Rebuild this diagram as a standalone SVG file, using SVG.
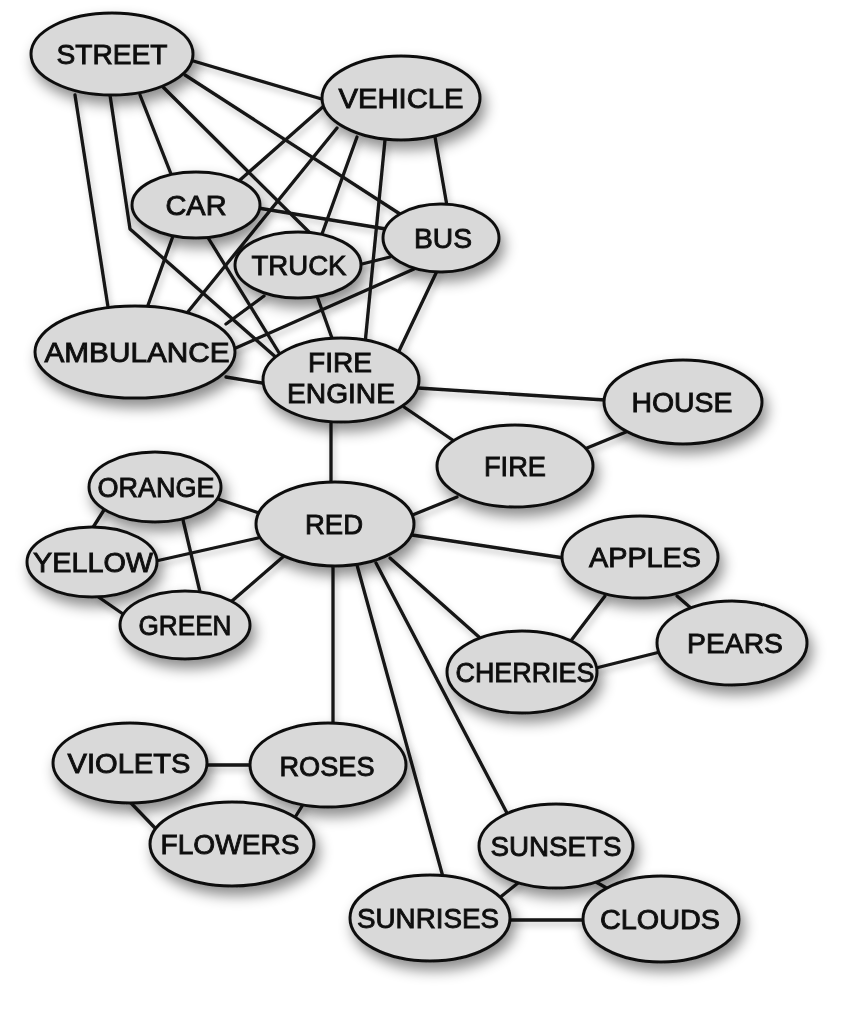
<svg xmlns="http://www.w3.org/2000/svg" width="851" height="1032" viewBox="0 0 851 1032">
<defs>
<filter id="sh" x="-30%" y="-30%" width="170%" height="180%">
<feDropShadow dx="4" dy="8" stdDeviation="7" flood-color="#000" flood-opacity="0.45"/>
</filter>
<filter id="lsh" x="-10%" y="-10%" width="120%" height="120%">
<feDropShadow dx="2" dy="4" stdDeviation="3" flood-color="#000" flood-opacity="0.25"/>
</filter>
</defs>
<style>
.e{stroke:#141414;stroke-width:3.3;fill:none;stroke-linecap:round;stroke-linejoin:round}
.n ellipse{fill:#d9d9d9;stroke:#111;stroke-width:3}
.n text{font-family:"Liberation Sans",Arial,sans-serif;font-size:27px;fill:#111;stroke:#111;stroke-width:0.9;text-anchor:middle}
.n{filter:url(#sh)}
</style>
<rect width="851" height="1032" fill="#fff"/>
<g id="connectors" filter="url(#lsh)">
<line class="e" x1="190" y1="60" x2="325" y2="100"/>
<line class="e" x1="185" y1="75" x2="400" y2="214"/>
<line class="e" x1="163" y1="87" x2="311" y2="234"/>
<line class="e" x1="140" y1="95" x2="171" y2="174"/>
<polyline class="e" points="110,95 130,229 279,360"/>
<line class="e" x1="75" y1="95" x2="108" y2="307"/>
<line class="e" x1="325" y1="105" x2="240" y2="180"/>
<line class="e" x1="337" y1="128" x2="187" y2="313"/>
<line class="e" x1="357" y1="137" x2="322" y2="234"/>
<line class="e" x1="385" y1="140" x2="365" y2="344"/>
<line class="e" x1="435" y1="137" x2="447" y2="206"/>
<line class="e" x1="258" y1="208" x2="386" y2="229"/>
<line class="e" x1="173" y1="236" x2="147" y2="308"/>
<line class="e" x1="207" y1="236" x2="281" y2="356"/>
<line class="e" x1="358" y1="265" x2="390" y2="257"/>
<line class="e" x1="264" y1="296" x2="226" y2="324"/>
<line class="e" x1="414" y1="269" x2="229" y2="351"/>
<line class="e" x1="437" y1="271" x2="399" y2="351"/>
<line class="e" x1="317" y1="296" x2="333" y2="341"/>
<line class="e" x1="226" y1="377" x2="268" y2="384"/>
<line class="e" x1="418" y1="388" x2="605" y2="400"/>
<line class="e" x1="404" y1="407" x2="454" y2="441"/>
<line class="e" x1="331" y1="420" x2="331" y2="484"/>
<line class="e" x1="587" y1="448" x2="626" y2="432"/>
<line class="e" x1="457" y1="497" x2="410" y2="516"/>
<line class="e" x1="218" y1="499" x2="259" y2="513"/>
<line class="e" x1="156" y1="561" x2="258" y2="538"/>
<line class="e" x1="232" y1="601" x2="284" y2="556"/>
<line class="e" x1="104" y1="510" x2="92" y2="529"/>
<line class="e" x1="183" y1="520" x2="200" y2="592"/>
<line class="e" x1="97" y1="596" x2="123" y2="614"/>
<line class="e" x1="412" y1="535" x2="564" y2="558"/>
<line class="e" x1="390" y1="558" x2="479" y2="637"/>
<line class="e" x1="333" y1="565" x2="333" y2="725"/>
<line class="e" x1="357" y1="565" x2="443" y2="877"/>
<line class="e" x1="376" y1="563" x2="508" y2="815"/>
<line class="e" x1="677" y1="596" x2="692" y2="609"/>
<line class="e" x1="605" y1="596" x2="570" y2="642"/>
<line class="e" x1="596" y1="668" x2="660" y2="652"/>
<line class="e" x1="205" y1="765" x2="251" y2="765"/>
<line class="e" x1="130" y1="802" x2="156" y2="829"/>
<line class="e" x1="304" y1="803" x2="294" y2="819"/>
<line class="e" x1="518" y1="883" x2="498" y2="899"/>
<line class="e" x1="596" y1="882" x2="610" y2="890"/>
<line class="e" x1="508" y1="920" x2="585" y2="920"/>
</g>
<g id="street" class="n"><ellipse cx="112" cy="54" rx="81" ry="41"/><text x="112" y="64" textLength="111" lengthAdjust="spacingAndGlyphs">STREET</text></g>
<g id="vehicle" class="n"><ellipse cx="401" cy="98" rx="79" ry="42"/><text x="401" y="108" textLength="125" lengthAdjust="spacingAndGlyphs">VEHICLE</text></g>
<g id="car" class="n"><ellipse cx="196" cy="205" rx="64" ry="33"/><text x="196" y="215" textLength="61" lengthAdjust="spacingAndGlyphs">CAR</text></g>
<g id="bus" class="n"><ellipse cx="441" cy="238" rx="58" ry="34"/><text x="443" y="248" textLength="58" lengthAdjust="spacingAndGlyphs">BUS</text></g>
<g id="truck" class="n"><ellipse cx="298" cy="265" rx="63" ry="33"/><text x="299" y="275" textLength="95" lengthAdjust="spacingAndGlyphs">TRUCK</text></g>
<g id="ambulance" class="n"><ellipse cx="135" cy="352" rx="100" ry="46"/><text x="137" y="362" textLength="185" lengthAdjust="spacingAndGlyphs">AMBULANCE</text></g>
<g id="fire-engine" class="n"><ellipse cx="341" cy="380" rx="78" ry="42"/><text x="340" y="372" textLength="64" lengthAdjust="spacingAndGlyphs">FIRE</text><text x="341" y="403" textLength="108" lengthAdjust="spacingAndGlyphs">ENGINE</text></g>
<g id="house" class="n"><ellipse cx="683" cy="402" rx="79" ry="42"/><text x="682" y="412" textLength="101" lengthAdjust="spacingAndGlyphs">HOUSE</text></g>
<g id="fire" class="n"><ellipse cx="515" cy="466" rx="78" ry="41"/><text x="515" y="476" textLength="62" lengthAdjust="spacingAndGlyphs">FIRE</text></g>
<g id="orange" class="n"><ellipse cx="155" cy="487" rx="66" ry="35"/><text x="156" y="497" textLength="117" lengthAdjust="spacingAndGlyphs">ORANGE</text></g>
<g id="red" class="n"><ellipse cx="335" cy="524" rx="79" ry="42"/><text x="334" y="534" textLength="58" lengthAdjust="spacingAndGlyphs">RED</text></g>
<g id="yellow" class="n"><ellipse cx="92" cy="562" rx="65" ry="35"/><text x="93" y="572" textLength="120" lengthAdjust="spacingAndGlyphs">YELLOW</text></g>
<g id="green" class="n"><ellipse cx="185" cy="625" rx="65" ry="34"/><text x="185" y="635" textLength="93" lengthAdjust="spacingAndGlyphs">GREEN</text></g>
<g id="apples" class="n"><ellipse cx="640" cy="557" rx="78" ry="41"/><text x="645" y="567" textLength="112" lengthAdjust="spacingAndGlyphs">APPLES</text></g>
<g id="pears" class="n"><ellipse cx="732" cy="643" rx="75" ry="42"/><text x="735" y="653" textLength="96" lengthAdjust="spacingAndGlyphs">PEARS</text></g>
<g id="cherries" class="n"><ellipse cx="522" cy="672" rx="75" ry="41"/><text x="525" y="682" textLength="139" lengthAdjust="spacingAndGlyphs">CHERRIES</text></g>
<g id="violets" class="n"><ellipse cx="130" cy="763" rx="77" ry="40"/><text x="129" y="773" textLength="123" lengthAdjust="spacingAndGlyphs">VIOLETS</text></g>
<g id="roses" class="n"><ellipse cx="328" cy="765" rx="78" ry="42"/><text x="327" y="776" textLength="95" lengthAdjust="spacingAndGlyphs">ROSES</text></g>
<g id="flowers" class="n"><ellipse cx="232" cy="844" rx="82" ry="42"/><text x="230" y="854" textLength="139" lengthAdjust="spacingAndGlyphs">FLOWERS</text></g>
<g id="sunsets" class="n"><ellipse cx="556" cy="846" rx="77" ry="42"/><text x="556" y="856" textLength="131" lengthAdjust="spacingAndGlyphs">SUNSETS</text></g>
<g id="sunrises" class="n"><ellipse cx="430" cy="918" rx="80" ry="43"/><text x="428" y="928" textLength="142" lengthAdjust="spacingAndGlyphs">SUNRISES</text></g>
<g id="clouds" class="n"><ellipse cx="661" cy="919" rx="78" ry="43"/><text x="660" y="929" textLength="120" lengthAdjust="spacingAndGlyphs">CLOUDS</text></g>
</svg>
